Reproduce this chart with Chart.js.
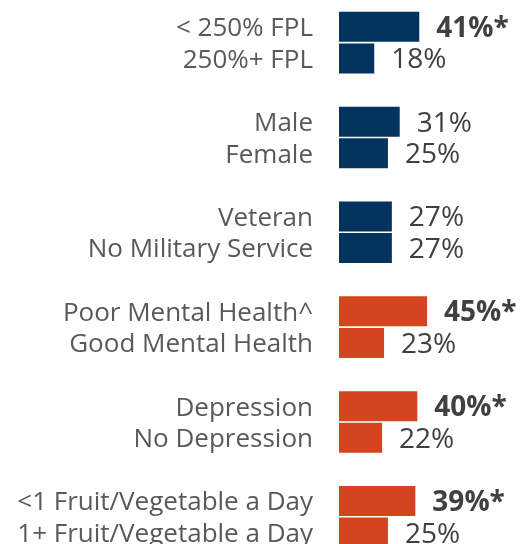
<!DOCTYPE html>
<html>
<head>
<meta charset="utf-8">
<script src="https://cdn.jsdelivr.net/npm/chart.js@4"></script>
<style>
  html, body { margin: 0; padding: 0; background: #fff; overflow: hidden; }
  #wrap { position: relative; width: 525px; height: 560px; }
</style>
</head>
<body>
<div id="wrap"><canvas id="chart"></canvas></div>
<script>
(() => {
  'use strict';

  // Data
  const categories = [
    '< 250% FPL', '250%+ FPL',
    'Male', 'Female',
    'Veteran', 'No Military Service',
    'Poor Mental Health^', 'Good Mental Health',
    'Depression', 'No Depression',
    '<1 Fruit/Vegetable a Day', '1+ Fruit/Vegetable a Day',
  ];
  const values = [41, 18, 31, 25, 27, 27, 45, 23, 40, 22, 39, 25];
  const significant = [true, false, false, false, false, false, true, false, true, false, true, false];
  const groupColors = ['#03335E', '#03335E', '#03335E', '#D4451F', '#D4451F', '#D4451F'];

  const FONT = '"Open Sans", "DejaVu Sans", sans-serif';

  // Two bars per group, with an empty slot between groups
  const slotLabels = [];
  const slotValues = [];
  const slotColors = [];
  const slotSig = [];
  categories.forEach((c, i) => {
    const g = Math.floor(i / 2);
    slotLabels.push(c);
    slotValues.push(values[i]);
    slotColors.push(groupColors[g]);
    slotSig.push(significant[i]);
    if (i % 2 === 1 && i < categories.length - 1) {
      slotLabels.push('');
      slotValues.push(null);
      slotColors.push('transparent');
      slotSig.push(false);
    }
  });

  // Value labels to the right of each bar
  const valueLabels = {
    id: 'valueLabels',
    afterDatasetsDraw(chart) {
      const { ctx } = chart;
      const meta = chart.getDatasetMeta(0);
      ctx.save();
      ctx.textAlign = 'left';
      ctx.textBaseline = 'middle';
      meta.data.forEach((bar, i) => {
        const v = slotValues[i];
        if (v == null) return;
        const sig = slotSig[i];
        ctx.font = (sig ? 'bold ' : '') + '28px ' + FONT;
        ctx.fillStyle = '#404040';
        ctx.fillText(v + '%' + (sig ? '*' : ''), bar.x + 17, bar.y + 2);
      });
      ctx.restore();
    },
  };

  new Chart(document.getElementById('chart'), {
    type: 'bar',
    data: {
      labels: slotLabels,
      datasets: [{
        data: slotValues,
        backgroundColor: slotColors,
        borderWidth: 0,
        categoryPercentage: 1,
        barPercentage: 0.95,
      }],
    },
    options: {
      indexAxis: 'y',
      responsive: true,
      maintainAspectRatio: false,
      animation: false,
      layout: { padding: { top: 11, bottom: 11.6, left: 0, right: 0 } },
      plugins: { legend: { display: false }, tooltip: { enabled: false } },
      scales: {
        x: { display: false, min: 0, max: 95 },
        y: {
          grid: { display: false, drawTicks: false },
          border: { display: false },
          ticks: {
            color: '#595959',
            padding: 26,
            labelOffset: 2,
            font: { family: FONT, size: 26 },
            autoSkip: false,
          },
          afterFit(scale) {
            scale.width = 339;
            // keep the label half-heights from shrinking the plot area
            scale.paddingTop = 0;
            scale.paddingBottom = 0;
          },
        },
      },
    },
    plugins: [valueLabels],
  });
})();
</script>
</body>
</html>
